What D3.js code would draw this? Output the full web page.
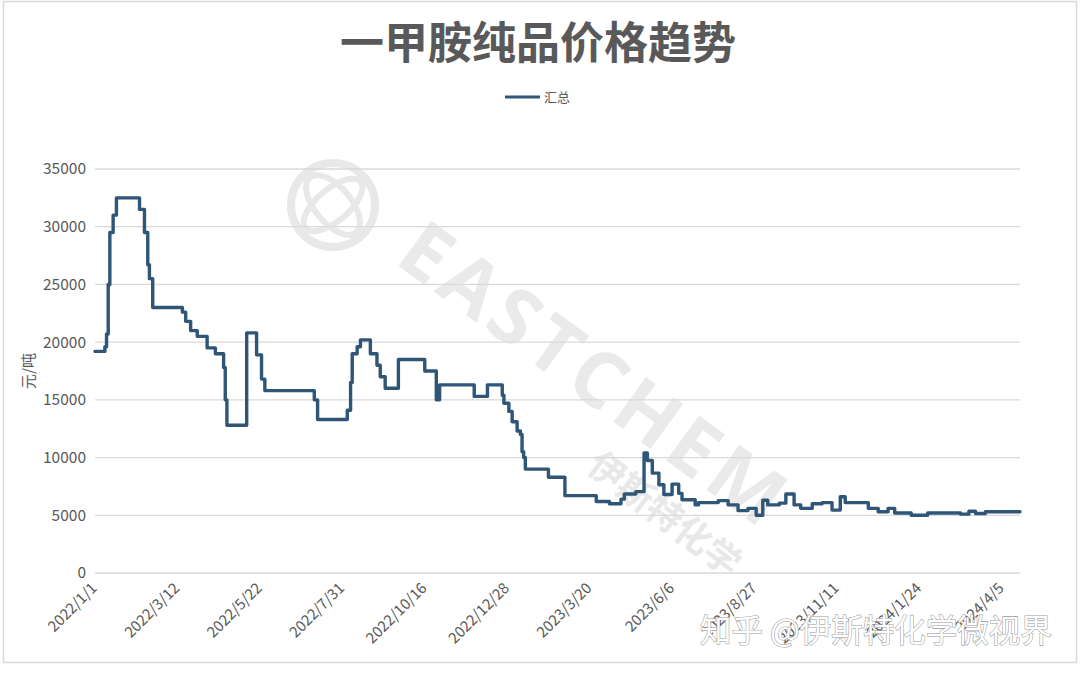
<!DOCTYPE html>
<html><head><meta charset="utf-8">
<script src="https://cdn.jsdelivr.net/npm/d3@7"></script>
<style>
html,body{margin:0;padding:0;background:#fff;}
svg{display:block;font-family:"Noto Sans CJK SC","Noto Sans",sans-serif;}
</style></head>
<body>
<svg id="chart" width="1080" height="676"></svg>
<script>
// ---- data ----
const title = "一甲胺纯品价格趋势";
const seriesName = "汇总";
const yAxisTitle = "元/吨";
const tickLabels = ["2022/1/1","2022/3/12","2022/5/22","2022/7/31","2022/10/16","2022/12/28",
  "2023/3/20","2023/6/6","2023/8/27","2023/11/11","2024/1/24","2024/4/5"];
const pointsPerLabel = 50;
const lastIndex = 561;
const yTicks = [0,5000,10000,15000,20000,25000,30000,35000];
// change points (category index where the price changes) and the price from there on
const changeIdx = [0,6,7,8,9,11,13,27,30,32,33,35,53,55,58,62,68,73,78,79,80,92,98,101,103,133,135,153,155,156,159,161,167,171,173,176,184,200,207,209,230,238,247,248,251,253,256,258,259,260,261,275,285,304,312,319,321,328,333,335,338,342,345,350,354,356,364,366,378,384,390,396,401,405,408,415,419,424,428,435,441,447,452,455,469,475,481,485,495,505,525,530,534,540,561];
const changeVal = [19200,19600,20700,25000,29500,31000,32500,31500,29500,26700,25500,23000,22600,21800,21000,20500,19500,19000,17800,15000,12800,20800,18900,16800,15800,15000,13300,14100,16500,19000,19600,20200,19000,18000,17000,16000,18500,17500,15000,16300,15300,16300,15400,14700,14000,13100,12300,12000,10500,10000,9000,8300,6700,6200,6000,6400,6850,7050,10400,9750,8650,7650,6800,7700,6900,6350,5900,6100,6270,5900,5400,5600,5000,6300,5900,6050,6850,5900,5600,6000,6100,5450,6600,6100,5600,5300,5600,5200,5000,5200,5100,5350,5150,5300,5300];

const series = changeIdx.map((d,i)=>({i:d, v:changeVal[i]}));

// ---- drawing ----
const svg = d3.select("#chart");
const textCol = "#595959";
const lineCol = "#2f5577";

// frame
svg.append("rect").attr("x",3.5).attr("y",1.5).attr("width",1073).attr("height",661)
  .attr("fill","#fff").attr("stroke","#d9d9d9").attr("stroke-width",1.5);

const x = d3.scaleLinear().domain([0,lastIndex]).range([95,1020]);
const y = d3.scaleLinear().domain([0,35000]).range([573,169]);

// watermark
const wm = svg.append("g").attr("fill","none").attr("stroke","#e8e8e8");
wm.append("circle").attr("cx",333).attr("cy",205).attr("r",42).attr("stroke-width",8);
wm.append("ellipse").attr("cx",333).attr("cy",205).attr("rx",18).attr("ry",36).attr("stroke-width",6)
  .attr("transform","rotate(-40,333,205)");
wm.append("ellipse").attr("cx",333).attr("cy",205).attr("rx",36).attr("ry",16).attr("stroke-width",6)
  .attr("transform","rotate(-40,333,205)");
svg.append("text").attr("x",0).attr("y",0)
  .attr("transform","translate(393,262) rotate(36)")
  .attr("font-size",78).attr("font-weight",700).attr("fill","#eaeaea")
  .attr("letter-spacing",6).attr("font-family","Open Sans, Noto Sans, sans-serif")
  .text("EASTCHEM");
svg.append("text").attr("transform","translate(585,470) rotate(37)")
  .attr("font-size",36).attr("fill","#e8e8e8").attr("font-weight",700).text("伊斯特化学");

// gridlines
svg.append("g").selectAll("line").data(yTicks).join("line")
  .attr("x1",95).attr("x2",1020).attr("y1",d=>y(d)).attr("y2",d=>y(d))
  .attr("stroke","#d9d9d9").attr("stroke-width",1.3);

// y axis labels
svg.append("g").selectAll("text").data(yTicks).join("text")
  .attr("x",86).attr("y",d=>y(d)).attr("dy","0.35em").attr("text-anchor","end")
  .attr("font-size",15.5).attr("fill",textCol).text(d=>d);

// y axis title
svg.append("text").attr("transform","translate(34,371) rotate(-90)")
  .attr("text-anchor","middle").attr("font-size",15).attr("fill",textCol).text(yAxisTitle);

// x labels
svg.append("g").selectAll("text").data(tickLabels).join("text")
  .attr("transform",(d,i)=>`translate(${x(i*pointsPerLabel)+3},${589}) rotate(-45)`)
  .attr("text-anchor","end").attr("font-size",15).attr("fill",textCol).text(d=>d);

// line
const line = d3.line().x(d=>x(d.i)).y(d=>y(d.v)).curve(d3.curveStepAfter);
svg.append("path").datum(series).attr("d",line).attr("fill","none")
  .attr("stroke",lineCol).attr("stroke-width",3.4).attr("stroke-linejoin","round").attr("stroke-linecap","round");

// title
svg.append("text").attr("x",538).attr("y",59).attr("text-anchor","middle")
  .attr("font-size",44).attr("font-weight",700).attr("fill",textCol).text(title);

// legend
svg.append("line").attr("x1",505).attr("x2",540).attr("y1",97).attr("y2",97)
  .attr("stroke",lineCol).attr("stroke-width",3);
svg.append("text").attr("x",544).attr("y",97).attr("dy","0.35em")
  .attr("font-size",13).attr("fill",textCol).text(seriesName);

// zhihu watermark
svg.append("text").attr("x",700).attr("y",642).attr("font-size",31.5)
  .attr("fill","#ffffff").attr("stroke","#9a9a9a").attr("stroke-width",1.1)
  .attr("paint-order","stroke").text("知乎 @伊斯特化学微视界");
</script>
</body></html>
